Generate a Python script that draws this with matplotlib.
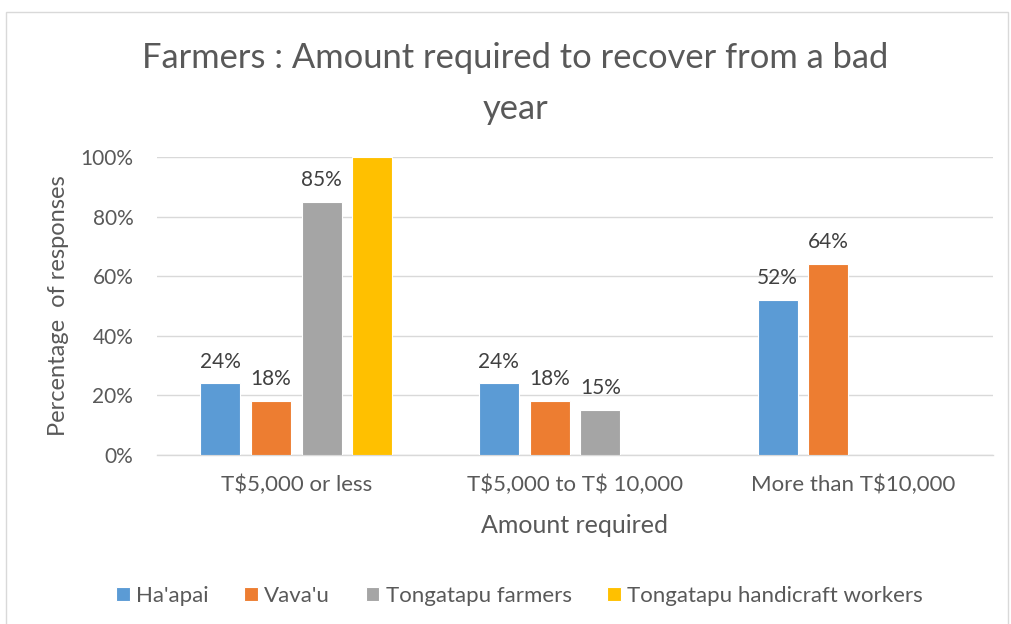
import matplotlib.pyplot as plt
import numpy as np
from matplotlib.patches import Rectangle

plt.rcParams['font.family'] = ['Lato', 'DejaVu Sans']
plt.rcParams['text.parse_math'] = False

# Datos
categorias = ["T$5,000 or less", "T$5,000 to T$ 10,000", "More than T$10,000"]
series = ["Ha'apai", "Vava'u", "Tongatapu farmers", "Tongatapu handicraft workers"]
haapai = [0.24, 0.24, 0.52]
vavau = [0.18, 0.18, 0.64]
tonga_farmers = [0.85, 0.15, 0.0]
tonga_handicraft = [1.00, 0.0, 0.0]
valores = [haapai, vavau, tonga_farmers, tonga_handicraft]
colores = ["#5B9BD5", "#ED7D31", "#A5A5A5", "#FFC000"]

fig = plt.figure(figsize=(10.12, 6.24), dpi=100)
ax = fig.add_axes([0.1551, 0.2708, 0.8261, 0.4776])

# Borde del area del grafico
fig.patches.append(Rectangle((0.006, -0.01), 0.99, 0.99, transform=fig.transFigure,
                             fill=False, edgecolor="#D9D9D9", linewidth=1.0))

x = np.arange(len(categorias))
ancho = 0.1435
paso = 0.182
for i, (nombre, vals, color) in enumerate(zip(series, valores, colores)):
    pos = x + (i - 1.5) * paso
    ax.bar(pos, vals, width=ancho, color=color, label=nombre,
           edgecolor="white", linewidth=0.8, zorder=3)
    for xb, v in zip(pos, vals):
        if 0 < v < 1:
            ax.text(xb, v + 0.04, f"{v:.0%}", ha="center", va="bottom",
                    fontsize=15, color="#404040")

ax.set_xlim(-0.5, 2.5)
ax.set_ylim(0, 1.0)
ticks = np.arange(0, 1.01, 0.2)
ax.set_yticks(ticks)
ax.set_yticklabels([f"{int(round(t*100))}%" for t in ticks],
                   fontsize=15, color="#595959")
ax.set_xticks(x)
ax.set_xticklabels(categorias, fontsize=16, color="#595959")
ax.tick_params(axis="both", length=0)
ax.tick_params(axis="x", pad=14)
ax.tick_params(axis="y", pad=17)
ax.grid(axis="y", color="#D9D9D9", linewidth=1.0, zorder=0)
for lado in ["top", "right", "left"]:
    ax.spines[lado].set_visible(False)
ax.spines["bottom"].set_color("#D9D9D9")
ax.spines["bottom"].set_linewidth(1.0)

ax.set_xlabel("Amount required", fontsize=18, color="#595959", labelpad=14)
ax.set_ylabel("Percentage  of responses", fontsize=17, color="#595959", labelpad=8)

fig.text(0.509, 0.866, "Farmers : Amount required to recover from a bad\nyear",
         ha="center", va="center", fontsize=24.8, color="#595959", linespacing=1.72)

fig.legend(loc="center", bbox_to_anchor=(0.5135, 0.045), ncol=4, frameon=False,
           fontsize=16, handlelength=0.6, handleheight=0.6, handletextpad=0.3,
           columnspacing=1.6, labelcolor="#595959")

fig.savefig("out.png", dpi=100, facecolor="white")
plt.close(fig)
